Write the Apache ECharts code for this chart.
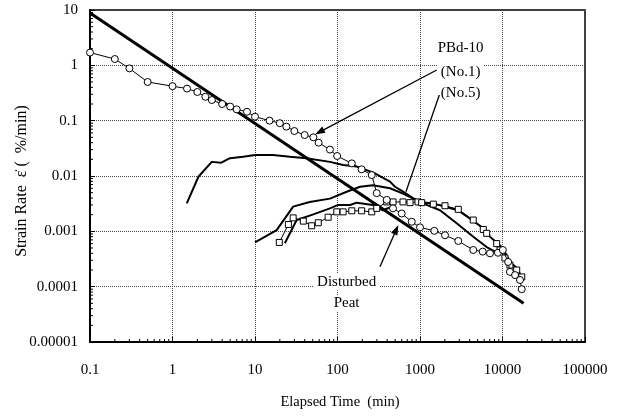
<!DOCTYPE html>
<html>
<head>
<meta charset="utf-8">
<script src="https://cdn.jsdelivr.net/npm/echarts@6/dist/echarts.min.js"></script>
<style>
html,body{margin:0;padding:0;background:#fff;}
#main{width:619px;height:418px;}
</style>
</head>
<body>
<div id="main"></div>
<script>
// ---- tick labels ----
const xTickLabels = ['0.1', '1', '10', '100', '1000', '10000', '100000'];
const yTickLabels = ['0.00001', '0.0001', '0.001', '0.01', '0.1', '1', '10'];

// ---- reference straight line ----
const refT = [0.1, 18000];
const refRate = [8.8, 0.00005];

// ---- circle series ----
const circT = [0.1, 0.2, 0.3, 0.5, 1, 1.5, 2, 2.5, 3, 4, 5, 6, 8, 10, 15, 20, 24, 30, 40, 51, 59, 81, 99, 149, 196, 260, 299, 395, 471, 600, 794, 1000, 1490, 2010, 2910, 4420, 5750, 7050, 8810, 10100, 11700, 12300, 14200, 16300, 17100];
const circRate = [1.7, 1.3, 0.88, 0.5, 0.42, 0.38, 0.33, 0.27, 0.236, 0.2, 0.18, 0.16, 0.145, 0.118, 0.1, 0.09, 0.078, 0.065, 0.055, 0.05, 0.04, 0.03, 0.023, 0.0169, 0.0132, 0.0104, 0.0049, 0.0037, 0.0026, 0.0021, 0.00149, 0.00118, 0.00102, 0.00085, 0.00067, 0.00046, 0.00043, 0.0004, 0.00041, 0.00046, 0.00028, 0.000185, 0.000162, 0.000132, 0.00009];

// ---- square series ----
const sqT = [19.7, 25.4, 29, 38.5, 48.6, 58.5, 77, 98, 117, 149, 196, 260, 299, 395, 471, 622, 757, 946, 1048, 1450, 2010, 2910, 4420, 5850, 6430, 8500, 9330, 10700, 12300, 14860, 17100];
const sqRate = [0.00063, 0.00133, 0.00175, 0.00153, 0.00126, 0.00143, 0.0018, 0.00225, 0.00225, 0.00235, 0.00235, 0.00225, 0.0026, 0.0034, 0.0034, 0.0034, 0.0033, 0.0034, 0.0033, 0.0031, 0.0029, 0.0025, 0.0016, 0.00108, 0.00092, 0.0006, 0.00046, 0.00033, 0.000245, 0.0002, 0.00015];

// ---- solid curves ----
const lineBT = [1.49, 2.06, 2.99, 3.9, 4.98, 7.2, 10, 16.5, 26.5, 42, 81, 117, 171, 269, 433, 498, 623, 822, 1205, 1747, 2784, 4424, 6430, 8110];
const lineBRate = [0.0032, 0.0097, 0.018, 0.0174, 0.021, 0.0222, 0.0239, 0.024, 0.0222, 0.0209, 0.018, 0.0158, 0.0148, 0.0116, 0.0079, 0.0064, 0.0052, 0.004, 0.003, 0.0024, 0.0014, 0.0008, 0.00052, 0.00043];

const lineCT = [10, 18.3, 29, 46, 81, 129, 188, 269, 433, 623, 1000, 1440, 2880, 4040, 5800, 7050, 10100, 12300, 14800, 16700];
const lineCRate = [0.00063, 0.00105, 0.0028, 0.0034, 0.0039, 0.0052, 0.0064, 0.0068, 0.006, 0.0048, 0.0034, 0.0032, 0.0024, 0.0017, 0.00115, 0.0008, 0.0005, 0.00028, 0.00022, 0.00016];

const lineDT = [23, 32, 50, 81, 102, 142, 171, 269, 355, 430];
const lineDRate = [0.00061, 0.0016, 0.002, 0.0026, 0.003, 0.003, 0.0033, 0.003, 0.0024, 0.0027];

// ---- annotations (data coordinates) ----
const annoTexts = ['PBd-10', '(No.1)', '(No.5)', 'Disturbed', 'Peat'];
const annoTextT = [3110, 3110, 3110, 129, 129];
const annoTextRate = [2.03, 0.766, 0.312, 0.000122, 0.0000498];

const zip = (a, b) => a.map((v, i) => [v, b[i]]);
const FONT = '"Liberation Serif", "Times New Roman", serif';

const chart = echarts.init(document.getElementById('main'), null, {renderer: 'canvas'});

const option = {
  animation: false,
  backgroundColor: '#fff',
  grid: {left: 90, right: 34, top: 10, bottom: 76, show: true, borderColor: '#000', borderWidth: 1.5, backgroundColor: 'transparent'},
  xAxis: {
    type: 'log', logBase: 10, min: 0.1, max: 100000, splitNumber: 6,
    axisLine: {lineStyle: {color: '#000', width: 2}},
    axisTick: {show: true, inside: true, length: 5, lineStyle: {color: '#000'}},
    axisLabel: {
      color: '#000', fontFamily: FONT, fontSize: 15, margin: 21,
      showMinLabel: true, showMaxLabel: true,
      formatter: v => xTickLabels[Math.round(Math.log10(v)) + 1]
    },
    splitLine: {show: true, lineStyle: {type: 'dotted', color: '#444', width: 1}}
  },
  yAxis: {
    type: 'log', logBase: 10, min: 0.00001, max: 10, splitNumber: 6,
    axisLine: {lineStyle: {color: '#000', width: 2}},
    axisTick: {show: true, inside: true, length: 5, lineStyle: {color: '#000'}},
    axisLabel: {
      color: '#000', fontFamily: FONT, fontSize: 15, margin: 12,
      showMinLabel: true, showMaxLabel: true,
      formatter: v => yTickLabels[Math.round(Math.log10(v)) + 5]
    },
    splitLine: {show: true, lineStyle: {type: 'dotted', color: '#444', width: 1}}
  },
  series: [
    {type: 'line', name: 'ref', data: zip(refT, refRate), showSymbol: false, symbol: 'none',
     lineStyle: {color: '#000', width: 3}, z: 3},
    {type: 'line', name: 'B', data: zip(lineBT, lineBRate), symbol: 'none',
     lineStyle: {color: '#000', width: 2}, z: 3},
    {type: 'line', name: 'C', data: zip(lineCT, lineCRate), symbol: 'none',
     lineStyle: {color: '#000', width: 2}, z: 3},
    {type: 'line', name: 'D', data: zip(lineDT, lineDRate), symbol: 'none',
     lineStyle: {color: '#000', width: 2}, z: 3},
    {type: 'line', name: 'squares', data: zip(sqT, sqRate), symbol: 'rect', symbolSize: 6,
     lineStyle: {color: '#000', width: 1},
     itemStyle: {color: '#fff', borderColor: '#000', borderWidth: 1}, z: 4},
    {type: 'line', name: 'circles', data: zip(circT, circRate), symbol: 'circle', symbolSize: 7,
     lineStyle: {color: '#000', width: 1},
     itemStyle: {color: '#fff', borderColor: '#000', borderWidth: 1}, z: 5}
  ]
};
chart.setOption(option);

// ---- decorations computed through the chart's own scales ----
const toPx = (t, r) => chart.convertToPixel({gridIndex: 0}, [t, r]);
const g = [];

// minor ticks (log positions 2..9 within each decade)
const origin = toPx(0.1, 0.00001);
for (let e = -1; e < 5; e++) {
  for (let k = 2; k <= 9; k++) {
    const p = toPx(k * Math.pow(10, e), 0.00001);
    g.push({type: 'line', silent: true, z: 6, shape: {x1: p[0], y1: origin[1], x2: p[0], y2: origin[1] - 3},
            style: {stroke: '#000', lineWidth: 1}});
  }
}
for (let e = -5; e < 1; e++) {
  for (let k = 2; k <= 9; k++) {
    const p = toPx(0.1, k * Math.pow(10, e));
    g.push({type: 'line', silent: true, z: 6, shape: {x1: origin[0], y1: p[1], x2: origin[0] + 3, y2: p[1]},
            style: {stroke: '#000', lineWidth: 1}});
  }
}

// annotation texts
annoTexts.forEach((txt, i) => {
  const p = toPx(annoTextT[i], annoTextRate[i]);
  g.push({type: 'text', silent: true, z: 1, x: p[0], y: p[1],
          style: {text: txt, font: '15px ' + FONT, fill: '#000', align: 'center', verticalAlign: 'middle',
                  backgroundColor: '#fff', padding: [1, 3]}});
});

function arrow(from, to, head) {
  const a = toPx(from[0], from[1]);
  const b = toPx(to[0], to[1]);
  const dx = b[0] - a[0], dy = b[1] - a[1];
  const L = Math.hypot(dx, dy);
  const ux = dx / L, uy = dy / L;
  const hl = 10, hw = 3.5;
  const end = head ? [b[0] - ux * hl * 0.6, b[1] - uy * hl * 0.6] : b;
  g.push({type: 'line', silent: true, z: 7, shape: {x1: a[0], y1: a[1], x2: end[0], y2: end[1]},
          style: {stroke: '#000', lineWidth: 1.3}});
  if (head) {
    const bx = b[0] - ux * hl, by = b[1] - uy * hl;
    g.push({type: 'polygon', silent: true, z: 7,
            shape: {points: [[b[0], b[1]], [bx - uy * hw, by + ux * hw], [bx + uy * hw, by - ux * hw]]},
            style: {fill: '#000'}});
  }
}
arrow([1594, 0.822], [53.4, 0.0565], true);
arrow([1714, 0.29], [676, 0.0052], false);
arrow([327, 0.00023], [546, 0.0013], true);

// axis titles
g.push({type: 'text', silent: true, x: 340, y: 402,
        style: {text: 'Elapsed Time  (min)', font: '14.5px ' + FONT, fill: '#000', align: 'center', verticalAlign: 'middle'}});
g.push({type: 'text', silent: true, x: 22, y: 181, rotation: Math.PI / 2,
        style: {text: 'Strain Rate  \u03B5\u0307 (  %/min)', font: '16px ' + FONT, fill: '#000', align: 'center', verticalAlign: 'middle'}});

chart.setOption({graphic: g});
</script>
</body>
</html>
